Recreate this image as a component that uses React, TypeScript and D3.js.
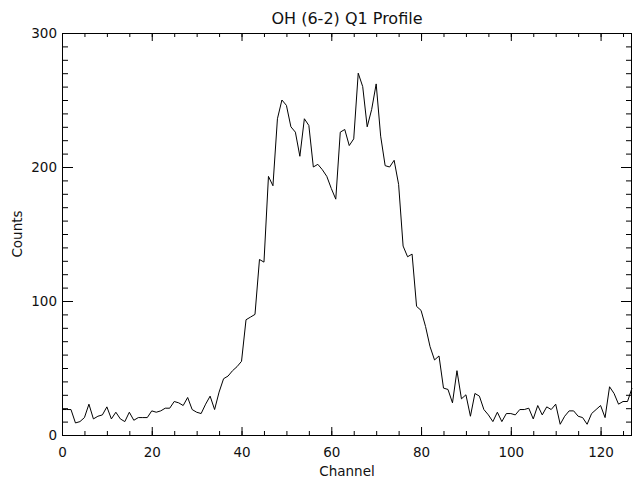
import * as d3 from "d3";
import { useRef, useEffect } from "react";

const title = "OH (6-2) Q1 Profile";
const xLabel = "Channel";
const yLabel = "Counts";
const xMajorTicks = [0, 20, 40, 60, 80, 100, 120];
const yMajorTicks = [0, 100, 200, 300];

// counts per channel, channel = index
const counts = [
  19, 19, 19, 9, 10, 13, 23, 12, 14, 15,
  21, 12, 17, 12, 10, 17, 11, 13, 13, 13,
  18, 17, 18, 20, 20, 25, 24, 22, 28, 19,
  17, 16, 23, 29, 19, 32, 42, 44, 48, 51,
  55, 86, 88, 90, 131, 129, 193, 186, 236, 250,
  246, 230, 226, 208, 236, 231, 200, 202, 198, 193,
  184, 176, 226, 228, 216, 221, 270, 260, 230, 243,
  262, 223, 201, 200, 205, 187, 141, 133, 135, 96,
  93, 81, 66, 56, 59, 35, 34, 24, 48, 27,
  30, 14, 31, 29, 19, 15, 10, 17, 10, 16,
  16, 15, 19, 19, 20, 12, 22, 15, 21, 19,
  23, 8, 14, 18, 18, 14, 13, 8, 16, 19,
  22, 13, 36, 31, 23, 25, 25, 35,
];

const font = "'DejaVu Sans', Verdana, sans-serif";

export default function App({
  width = 633,
  height = 481,
  marginTop = 33,
  marginRight = 1,
  marginBottom = 46,
  marginLeft = 62,
}) {
  const ref = useRef<SVGSVGElement>(null);
  const x = d3.scaleLinear([0, 127], [marginLeft, width - marginRight]);
  const y = d3.scaleLinear([0, 300], [height - marginBottom, marginTop]);
  const line = d3
    .line<number>()
    .x((d, i) => x(i))
    .y((d) => y(d));

  useEffect(() => {
    const svg = d3.select(ref.current);
    svg.selectAll(".axes").remove();
    const g = svg.append("g").attr("class", "axes");
    const xMinor = d3.range(0, 128, 5);
    const yMinor = d3.range(0, 301, 10);
    const bottom = height - marginBottom;
    const right = width - marginRight;

    const put = (sel, axis) => {
      sel.call(axis);
      sel.select(".domain").remove();
      sel.selectAll("line").attr("stroke", "#000");
      sel
        .selectAll("text")
        .attr("font-family", font)
        .attr("font-size", 13.5)
        .attr("fill", "#111");
    };

    // bottom
    put(
      g.append("g").attr("transform", `translate(0,${bottom})`),
      d3.axisBottom(x).tickValues(xMinor).tickSize(-4).tickFormat(() => "")
    );
    put(
      g.append("g").attr("transform", `translate(0,${bottom})`),
      d3.axisBottom(x).tickValues(xMajorTicks).tickSize(-8).tickPadding(12).tickFormat(d3.format("d"))
    );
    // top
    put(
      g.append("g").attr("transform", `translate(0,${marginTop})`),
      d3.axisTop(x).tickValues(xMinor).tickSize(-4).tickFormat(() => "")
    );
    put(
      g.append("g").attr("transform", `translate(0,${marginTop})`),
      d3.axisTop(x).tickValues(xMajorTicks).tickSize(-8).tickFormat(() => "")
    );
    // left
    put(
      g.append("g").attr("transform", `translate(${marginLeft},0)`),
      d3.axisLeft(y).tickValues(yMinor).tickSize(-6).tickFormat(() => "")
    );
    put(
      g.append("g").attr("transform", `translate(${marginLeft},0)`),
      d3.axisLeft(y).tickValues(yMajorTicks).tickSize(-11).tickPadding(5).tickFormat(d3.format("d"))
    );
    // right
    put(
      g.append("g").attr("transform", `translate(${right},0)`),
      d3.axisRight(y).tickValues(yMinor).tickSize(-6).tickFormat(() => "")
    );
    put(
      g.append("g").attr("transform", `translate(${right},0)`),
      d3.axisRight(y).tickValues(yMajorTicks).tickSize(-11).tickFormat(() => "")
    );

    g.append("rect")
      .attr("x", marginLeft + 0.5)
      .attr("y", marginTop + 0.5)
      .attr("width", right - marginLeft - 1)
      .attr("height", bottom - marginTop)
      .attr("fill", "none")
      .attr("stroke", "#000");
  }, []);

  return (
    <svg
      ref={ref}
      width={width}
      height={height}
      style={{ position: "absolute", left: 0, top: 0, background: "#fff" }}
    >
      <path d={line(counts) ?? ""} fill="none" stroke="#000" strokeWidth={1} />
      <text
        x={(marginLeft + width - marginRight) / 2}
        y={24}
        textAnchor="middle"
        fontFamily={font}
        fontSize={16}
        fill="#111"
      >
        {title}
      </text>
      <text
        x={(marginLeft + width - marginRight) / 2}
        y={476}
        textAnchor="middle"
        fontFamily={font}
        fontSize={13.5}
        fill="#111"
      >
        {xLabel}
      </text>
      <text
        transform={`translate(22,${(marginTop + height - marginBottom) / 2}) rotate(-90)`}
        textAnchor="middle"
        fontFamily={font}
        fontSize={13.5}
        fill="#111"
      >
        {yLabel}
      </text>
    </svg>
  );
}
